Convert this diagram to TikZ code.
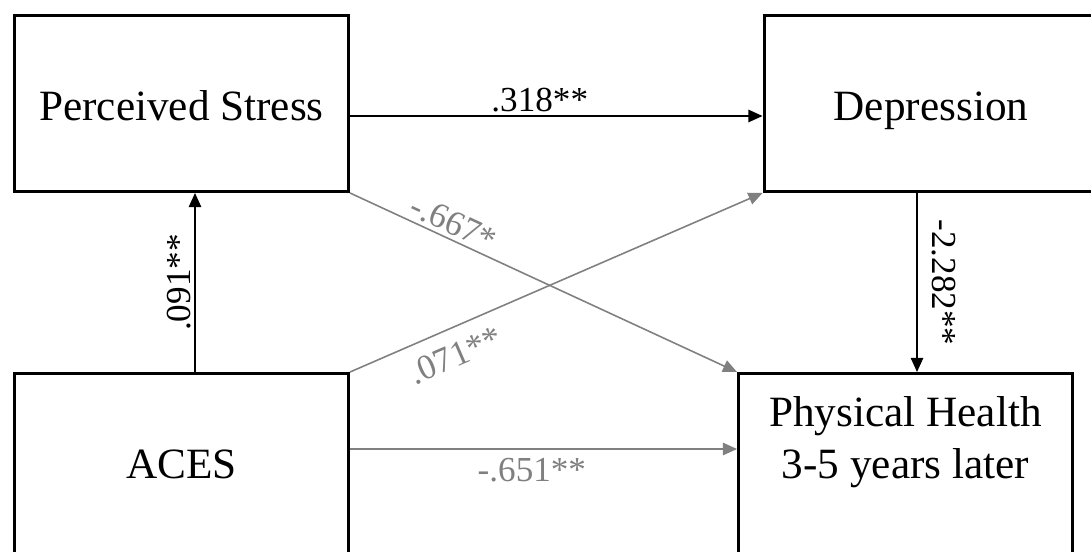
\documentclass[tikz,border=0pt]{standalone}
\usepackage{fontspec}
\setmainfont{Liberation Serif}
\usetikzlibrary{arrows.meta, positioning}
\definecolor{pathgray}{RGB}{128,128,128}

\begin{document}
\begin{tikzpicture}[
    x=0.02cm, y=-0.02cm,
    var node/.style={rectangle, draw=black, line width=1.7pt, minimum width=6.68cm, minimum height=3.52cm, inner sep=0pt, text height=19pt, text depth=0pt, font=\fontsize{24.6}{29.5}\selectfont},
    low node/.style={var node, minimum height=4.4cm},
    var text/.style={font=\fontsize{24.6}{29.5}\selectfont, align=center},
    black path/.style={draw=black, line width=0.9pt, -{Triangle[length=8pt, width=7pt]}},
    gray path/.style={draw=pathgray, line width=0.9pt, -{Triangle[length=8pt, width=7pt]}},
    coef/.style={font=\fontsize{20}{24}\selectfont, inner sep=2pt},
    gray coef/.style={coef, text=pathgray}
]
    \useasboundingbox (0,0) rectangle (1091,551);
    \clip (0,0) rectangle (1091,551);

    % --- Variables ---
    \node[var node] (stress) at (181.5,103.5) {Perceived Stress};
    \node[var node] (dep) at (931,103.5) {Depression};
    \node[low node] (aces) at (181.5,483.5) {};
    \node[low node] (health) at (905.5,483.5) {};
    \node[var text, anchor=base] (acestext) at (181.5,478) {ACES};
    \node[var text] (healthtext) at (905.5,442) {Physical Health\\3-5 years later};

    % --- Black paths ---
    \draw[black path] ([xshift=0.27cm]aces.north) -- node[coef, midway, above, sloped] {.091**} ([xshift=0.27cm]stress.south);
    \draw[black path] ([yshift=-0.25cm]stress.east) -- node[coef, pos=0.46, above] {.318**} ([yshift=-0.25cm]stress.east -| dep.west);
    \draw[black path] ([xshift=-0.28cm]dep.south) -- node[coef, midway, above=6pt, sloped] {-2.282**} ([xshift=-0.28cm]dep.south |- health.north);

    % --- Gray paths ---
    \draw[gray path] (stress.south east) -- node[gray coef, pos=0.25, above, sloped] {-.667*} (health.north west);
    \draw[gray path] (aces.north east) -- node[gray coef, pos=0.23, below=6pt, sloped] {.071**} (dep.south west);
    \draw[gray path] ([yshift=0.69cm]aces.east) -- node[gray coef, pos=0.47, below=3pt] {-.651**} ([yshift=0.69cm]aces.east -| health.west);
\end{tikzpicture}
\end{document}
